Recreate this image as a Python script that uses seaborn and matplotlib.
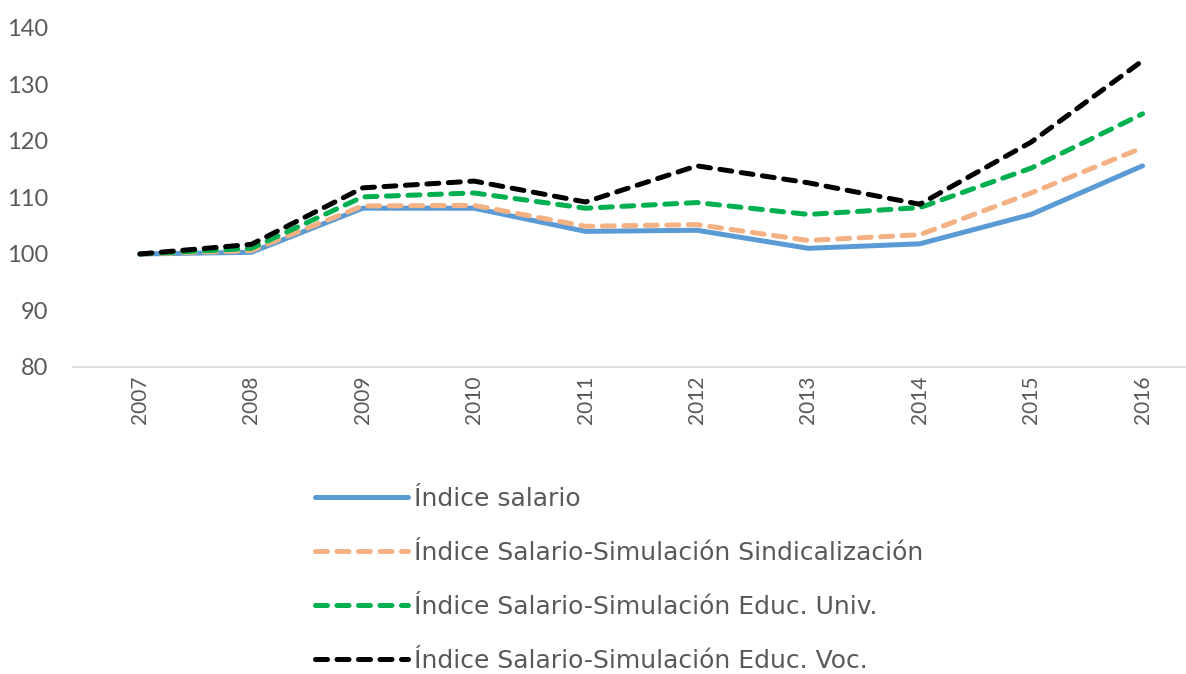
import matplotlib
matplotlib.use("Agg")
import matplotlib.pyplot as plt
import seaborn as sns
import pandas as pd

years = ["2007", "2008", "2009", "2010", "2011", "2012", "2013", "2014", "2015", "2016"]
indice_salario = [100.0, 100.3, 108.1, 108.1, 104.0, 104.2, 101.0, 101.8, 107.0, 115.6]
sim_sindicalizacion = [100.0, 100.6, 108.5, 108.6, 104.9, 105.2, 102.4, 103.4, 110.8, 118.8]
sim_educ_univ = [100.0, 101.0, 110.1, 110.8, 108.1, 109.1, 107.0, 108.2, 115.2, 124.8]
sim_educ_voc = [100.0, 101.7, 111.7, 112.9, 109.2, 115.6, 112.6, 108.8, 119.8, 134.2]

names = [
    "Índice salario",
    "Índice Salario-Simulación Sindicalización",
    "Índice Salario-Simulación Educ. Univ.",
    "Índice Salario-Simulación Educ. Voc.",
]
series = [indice_salario, sim_sindicalizacion, sim_educ_univ, sim_educ_voc]
colors = ["#5B9BD5", "#F4B183", "#00B050", "#000000"]

rows = []
for n, vals in zip(names, series):
    for i, (y, v) in enumerate(zip(years, vals)):
        rows.append({"pos": i, "year": y, "serie": n, "valor": v})
df = pd.DataFrame(rows)

sns.set_theme(style="white")
plt.rcParams["font.family"] = ["Lato", "DejaVu Sans"]

fig = plt.figure(figsize=(11.86, 6.74), dpi=100)
ax = fig.add_axes([0.0616, 0.4555, 0.9384, 0.503])

lw = 3.6
for n, c in zip(names, colors):
    sub = df[df["serie"] == n]
    if n == names[0]:
        sns.lineplot(data=sub, x="pos", y="valor", ax=ax, color=c, lw=lw,
                     label=n, solid_capstyle="round", solid_joinstyle="round")
    else:
        sns.lineplot(data=sub, x="pos", y="valor", ax=ax, color=c, lw=lw,
                     label=n, linestyle=(0, (2.4, 1.9)), dash_capstyle="round",
                     dash_joinstyle="round")

ax.set_xlim(-0.6, 9.39)
ax.set_ylim(80, 140)
ax.set_yticks([80, 90, 100, 110, 120, 130, 140])
ax.set_xticks(range(len(years)))
ax.set_xticklabels(years, rotation=90)
ax.set_xlabel("")
ax.set_ylabel("")
for s in ["top", "right", "left"]:
    ax.spines[s].set_visible(False)
ax.spines["bottom"].set_color("#D9D9D9")
ax.spines["bottom"].set_linewidth(1.2)
ax.tick_params(axis="both", length=0, colors="#595959")
ax.tick_params(axis="y", labelsize=17, pad=18)
ax.tick_params(axis="x", labelsize=15, pad=6)
ax.grid(False)

handles, labels = ax.get_legend_handles_labels()
ax.get_legend().remove()
leg = fig.legend(handles, labels, loc="upper left", bbox_to_anchor=(0.2466, 0.311),
                 frameon=False, handlelength=3.72, handletextpad=0.25,
                 labelspacing=1.2,
                 prop={"family": ["DejaVu Sans"], "size": 18})
for t in leg.get_texts():
    t.set_color("#595959")

fig.savefig("out.png", dpi=100)
